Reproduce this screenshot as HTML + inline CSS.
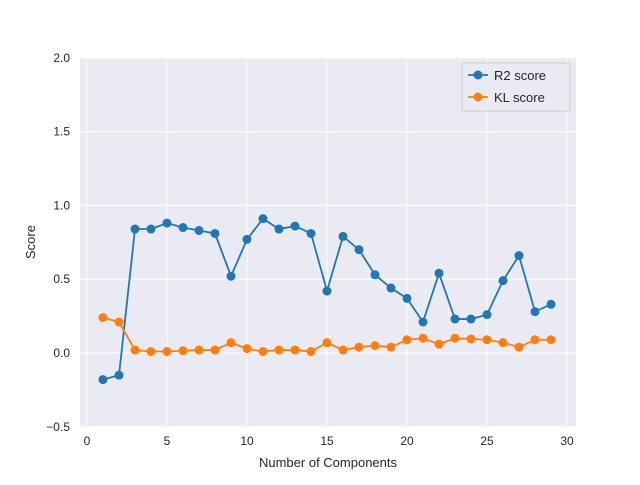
<!DOCTYPE html>
<html><head><meta charset="utf-8"><style>
body{margin:0;background:#fff;font-family:"Liberation Sans",Arial,sans-serif;}
svg text{font-family:"Liberation Sans",Arial,sans-serif;fill:#262626;}
</style></head><body>
<svg id="chart" width="640" height="480">
<rect x="80" y="58" width="496" height="369" fill="#eaeaf2"/>
<g id="grid"></g><g id="ticks"></g><g id="series"></g>
<text x="328" y="467" text-anchor="middle" font-size="13">Number of Components</text>
<text transform="translate(35,242) rotate(-90)" text-anchor="middle" font-size="13">Score</text>
<g>
<rect x="462" y="63" width="108" height="48" rx="3" fill="#eaeaf2" stroke="#ccc" opacity="0.9"/>
<g><line x1="468" y1="75" x2="488" y2="75" stroke="#1f77b4" stroke-width="1.8"/><circle cx="478" cy="75" r="4.5" fill="#1f77b4"/><text x="494" y="80" font-size="13">R2 score</text></g>
<g><line x1="468" y1="97" x2="488" y2="97" stroke="#ff7f0e" stroke-width="1.8"/><circle cx="478" cy="97" r="4.5" fill="#ff7f0e"/><text x="494" y="102" font-size="13">KL score</text></g>
</g>
</svg>
<script>
const components=[1,2,3,4,5,6,7,8,9,10,11,12,13,14,15,16,17,18,19,20,21,22,23,24,25,26,27,28,29];
const r2Scores=[-0.18,-0.15,0.84,0.84,0.88,0.85,0.83,0.81,0.52,0.77,0.91,0.84,0.86,0.81,0.42,0.79,0.70,0.53,0.44,0.37,0.21,0.54,0.23,0.23,0.26,0.49,0.66,0.28,0.33];
const klScores=[0.24,0.21,0.02,0.01,0.01,0.015,0.02,0.02,0.07,0.03,0.01,0.02,0.02,0.01,0.07,0.02,0.04,0.05,0.04,0.09,0.10,0.06,0.10,0.095,0.09,0.07,0.04,0.09,0.09];
const xTicks=[0,5,10,15,20,25,30];
const yTicks=[-0.5,0,0.5,1.0,1.5,2.0];
const NS='http://www.w3.org/2000/svg';
function sx(v){return 87+v*16;}
function sy(v){return 353-v*147.6;}
function mk(t,a,p){const e=document.createElementNS(NS,t);for(const k in a)e.setAttribute(k,a[k]);p.appendChild(e);return e;}
const grid=document.getElementById('grid'),ticks=document.getElementById('ticks'),ser=document.getElementById('series');
xTicks.forEach(v=>{
 const l=mk('line',{x1:sx(v),x2:sx(v),y1:58,y2:427,stroke:'#fff','stroke-width':1},grid);
 
 
 const t=mk('text',{x:sx(v),y:445,'text-anchor':'middle','font-size':12},ticks);t.textContent=v;
 
 
});
yTicks.forEach(v=>{
 const l=mk('line',{x1:80,x2:576,y1:sy(v),y2:sy(v),stroke:'#fff','stroke-width':1},grid);
 
 
 const t=mk('text',{x:70,y:sy(v)+4,'text-anchor':'end','font-size':12},ticks);t.textContent=v.toFixed(1).replace('-','\u2212');
 
 
});
function draw(vals,color,name){
 const g=mk('g',{},ser);
 
 
 const pl=mk('polyline',{points:vals.map((v,i)=>sx(components[i])+','+sy(v)).join(' '),fill:'none',stroke:color,'stroke-width':1.8},g);
 
 
 vals.forEach((v,i)=>{const c=mk('circle',{cx:sx(components[i]),cy:sy(v),r:4.5,fill:color},g);
  
  });
}
draw(r2Scores,'#1f77b4','r2');
draw(klScores,'#ff7f0e','kl');
</script>
</body></html>
